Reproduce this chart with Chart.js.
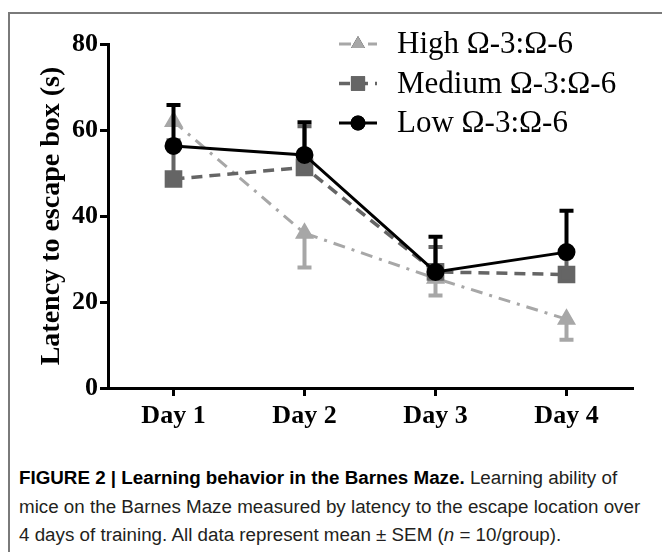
<!DOCTYPE html>
<html>
<head>
<meta charset="utf-8">
<script src="https://cdn.jsdelivr.net/npm/chart.js@4.4.1/dist/chart.umd.min.js"></script>
<style>
  body { margin: 0; background: #fff; }
  #frame { position: absolute; left: 8px; top: 12px; width: 700px; height: 600px;
           border-left: 2px solid #7a7a7a; border-top: 2px solid #7a7a7a; }
  #wrap { position: absolute; left: 0; top: 0; width: 662px; height: 440px; }
  #caption { position: absolute; left: 19px; top: 464px; white-space: nowrap;
             font-family: "Liberation Sans Narrow", "Liberation Sans", sans-serif;
             font-size: 18.8px; line-height: 28.5px; color: #231f20; }
  #caption b { color: #000; }
</style>
</head>
<body>
<div id="frame"></div>
<div id="wrap"><canvas id="maze"></canvas></div>
<div id="caption"><b>FIGURE 2 | Learning behavior in the Barnes Maze.</b> Learning ability of<br>mice on the Barnes Maze measured by latency to the escape location over<br>4 days of training. All data represent mean ± SEM (<i>n</i> = 10/group).</div>
<script>
const days = ["Day 1", "Day 2", "Day 3", "Day 4"];
const seriesNames = ["High Ω-3:Ω-6", "Medium Ω-3:Ω-6", "Low Ω-3:Ω-6"];

// mean latency (s)
const highMean = [62, 36, 25.5, 16];
const mediumMean = [48.6, 51.3, 27, 26.4];
const lowMean = [56.3, 54.2, 27, 31.6];

// SEM, drawn one side only (high goes down, the others up)
const highSem = [0, 8, 4, 4.8];
const mediumSem = [9, 9.6, 5.8, 4.5];
const lowSem = [9.5, 7.6, 8.2, 9.6];
const semSide = [-1, 1, 1];

const yTicks = [0, 20, 40, 60, 80];

const serif = "'Liberation Serif', 'Times New Roman', serif";

// error bars go under each series' own line and markers
const errorBars = {
  id: "errorBars",
  beforeDatasetDraw(chart, args) {
    const ds = chart.data.datasets[args.index];
    const y = chart.scales.y;
    const ctx = chart.ctx;
    ctx.save();
    ctx.strokeStyle = ds.borderColor;
    ctx.lineWidth = 4;
    ctx.setLineDash([]);
    args.meta.data.forEach((pt, i) => {
      const sem = ds.sem[i];
      if (!sem) return;
      const y0 = y.getPixelForValue(ds.data[i]);
      const y1 = y.getPixelForValue(ds.data[i] + ds.side * sem);
      ctx.beginPath();
      ctx.moveTo(pt.x, y0);
      ctx.lineTo(pt.x, y1);
      ctx.moveTo(pt.x - 7, y1);
      ctx.lineTo(pt.x + 7, y1);
      ctx.stroke();
    });
    ctx.restore();
  }
};

// legend: line sample + marker + label, top right
const lineLegend = {
  id: "lineLegend",
  afterDraw(chart) {
    const ctx = chart.ctx;
    const x0 = 339, x1 = 377, tx = 397;
    chart.data.datasets.forEach((ds, i) => {
      const yy = 44 + i * 39.5;
      ctx.save();
      ctx.strokeStyle = ds.borderColor;
      ctx.lineWidth = ds.borderWidth;
      ctx.setLineDash(ds.borderDash || []);
      ctx.beginPath();
      ctx.moveTo(x0, yy);
      ctx.lineTo(x1, yy);
      ctx.stroke();
      ctx.setLineDash([]);
      Chart.helpers.drawPoint(ctx, {
        pointStyle: ds.pointStyle, radius: ds.pointRadius,
        borderWidth: 0, rotation: 0
      }, (x0 + x1) / 2, yy);
      ctx.fillStyle = ds.pointBackgroundColor;
      ctx.fill();
      ctx.fillStyle = "#000";
      ctx.font = "31px " + serif;
      ctx.textBaseline = "middle";
      ctx.fillText(ds.label, tx, yy + 1);
      ctx.restore();
    });
  }
};

new Chart(document.getElementById("maze"), {
  type: "line",
  data: {
    labels: days,
    datasets: [
      {
        label: seriesNames[0], data: highMean, sem: highSem, side: semSide[0],
        borderColor: "#a7a7a7", pointBackgroundColor: "#a7a7a7", pointBorderColor: "#a7a7a7",
        borderWidth: 3, borderDash: [12, 7, 3, 7], pointStyle: "triangle", pointRadius: 8,
        order: 2
      },
      {
        label: seriesNames[1], data: mediumMean, sem: mediumSem, side: semSide[1],
        borderColor: "#656565", pointBackgroundColor: "#656565", pointBorderColor: "#656565",
        borderWidth: 3.5, borderDash: [11, 7], pointStyle: "rect", pointRadius: 10,
        order: 1
      },
      {
        label: seriesNames[2], data: lowMean, sem: lowSem, side: semSide[2],
        borderColor: "#000", pointBackgroundColor: "#000", pointBorderColor: "#000",
        borderWidth: 3, pointStyle: "circle", pointRadius: 7.5,
        order: 0
      }
    ]
  },
  options: {
    responsive: true,
    maintainAspectRatio: false,
    animation: false,
    layout: { padding: { left: 31, right: 30, top: 44, bottom: 0 } },
    elements: { line: { tension: 0 }, point: { borderWidth: 0, hoverRadius: 8 } },
    plugins: { legend: { display: false }, tooltip: { enabled: false } },
    scales: {
      x: {
        offset: true,
        grid: { offset: false, drawOnChartArea: false, drawTicks: true, tickLength: 8, lineWidth: 3, color: "#000" },
        border: { display: true, width: 3, color: "#000" },
        ticks: { color: "#000", padding: 5, font: { family: serif, size: 26, weight: "bold" } },
        afterFit(scale) { scale.height = 52; }
      },
      y: {
        min: 0, max: 80,
        afterBuildTicks(scale) { scale.ticks = yTicks.map(v => ({ value: v })); },
        grid: { drawOnChartArea: false, drawTicks: true, tickLength: 8, lineWidth: 3, color: "#000" },
        border: { display: true, width: 3, color: "#000" },
        ticks: { color: "#000", padding: 2, font: { family: serif, size: 26, weight: "bold" } },
        title: { display: true, text: "Latency to escape box (s)", color: "#000",
                 font: { family: serif, size: 28, weight: "bold" } },
        afterFit(scale) { scale.width = 77; }
      }
    }
  },
  plugins: [errorBars, lineLegend]
});
</script>
</body>
</html>
